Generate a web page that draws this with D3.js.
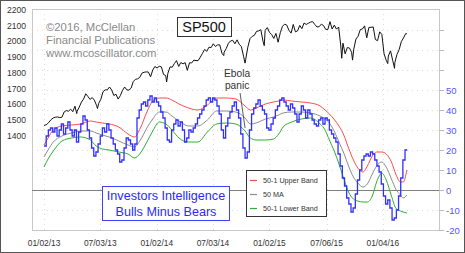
<!DOCTYPE html>
<html>
<head>
<meta charset="utf-8">
<script src="https://cdn.jsdelivr.net/npm/d3@7.9.0/dist/d3.min.js"></script>
<style>
  body { margin: 0; background: #fff; }
  svg { display: block; font-family: "Liberation Sans", Arial, sans-serif; }
</style>
</head>
<body>
<div id="chart"></div>
<script>
// weekly SP500 closes (Fridays from 01/04/13)
const spStart = '2013-01-04';
const spWeekly = [
  1466, 1472, 1486, 1503, 1513, 1518, 1519, 1515, 1518, 1551, 1560, 1556, 1569,
  1553, 1588, 1555, 1582, 1614, 1633, 1667, 1650, 1631, 1643, 1626, 1593, 1606,
  1632, 1680, 1692, 1692, 1710, 1691, 1656, 1664, 1633, 1655, 1688, 1710, 1692,
  1690, 1703, 1745, 1759, 1762, 1771, 1798, 1804, 1806, 1805, 1775, 1818, 1841,
  // 2014
  1831, 1842, 1838, 1790, 1783, 1797, 1838, 1836, 1859, 1878, 1841, 1866, 1857,
  1865, 1816, 1864, 1863, 1881, 1878, 1878, 1900, 1924, 1949, 1937, 1963, 1961,
  1985, 1968, 1978, 1978, 1925, 1931, 1955, 1988, 2003, 2007, 1985, 2010, 1982,
  1967, 1906, 1886, 1964, 2018, 2032, 2039, 2064, 2067, 2075, 2002, 2070, 2088,
  // 2015
  2058, 2044, 2019, 2051, 1995, 2055, 2096, 2110, 2104, 2071, 2053, 2108, 2061,
  2067, 2102, 2081, 2117, 2108, 2116, 2123, 2126, 2107, 2092, 2094, 2110, 2101,
  2077, 2076, 2126, 2079, 2104, 2078, 2092, 1971, 1989, 1921, 1961, 1958, 1931,
  1951, 2015, 2033, 2075, 2079, 2099, 2023, 2089, 2090, 2092, 2012, 2005, 2061,
  // 2016
  2044, 1922, 1880, 1907, 1940, 1880, 1865, 1918, 1948, 1999, 2022, 2050,
];
// mid-week extremes
const spExtra = [
  ['2013-01-02', 1462], ['2013-04-18', 1541], ['2013-06-24', 1573],
  ['2014-02-03', 1742], ['2014-08-07', 1910], ['2014-10-15', 1862],
  ['2014-12-16', 1973], ['2015-08-24', 1893], ['2015-09-28', 1881],
  ['2016-01-20', 1859], ['2016-02-11', 1829], ['2016-03-22', 2049],
];

// Investors Intelligence bulls minus bears, weekly (Wednesdays from 01/02/13)
const iiStart = '2013-01-02';
const iiEnd = '2016-03-23';
const iiWeekly = [
  22, 27, 30, 31, 29, 31, 27, 30, 33, 28, 31, 34, 30, 27, 30, 24, 29,
  33, 37, 35, 30, 26, 21, 17, 19, 23, 27, 31, 29, 33, 30, 26, 23, 20, 18,
  14, 15, 21, 26, 25, 23, 20, 23, 36, 40, 43, 44, 42, 45, 47, 44, 46,
  // 2014
  44, 42, 39, 36, 31, 25, 24, 30, 33, 35, 32, 34, 30, 24, 26, 30, 29,
  31, 33, 36, 38, 40, 42, 45, 46, 44, 46, 45, 42, 38, 30, 26, 32, 36, 39,
  42, 44, 40, 36, 28, 21, 16, 19, 30, 38, 41, 43, 45, 42, 40, 38, 31,
  // 2015
  30, 33, 36, 40, 42, 45, 46, 44, 42, 40, 43, 41, 38, 34, 38, 42, 40,
  36, 40, 38, 35, 33, 32, 35, 36, 33, 36, 35, 30, 28, 26, 24, 18, 12, 6,
  2, -4, -7, -11, -9, -2, 5, 10, 15, 17, 18, 17, 19, 18, 15, 12, 9,
  // 2016
  3, -3, -7, -5, -9, -15, -14, -10, -3, 6, 15, 20,
];

const bandDates = [
  '2013-01-02', '2013-01-15', '2013-02-01', '2013-03-01', '2013-04-01', '2013-05-01',
  '2013-06-01', '2013-06-20', '2013-07-10', '2013-08-01', '2013-09-01', '2013-10-01',
  '2013-10-22', '2013-11-10', '2013-12-01', '2013-12-20', '2014-01-10', '2014-02-01',
  '2014-02-20', '2014-03-15', '2014-04-15', '2014-05-15', '2014-06-15', '2014-07-15',
  '2014-08-15', '2014-09-15', '2014-10-15', '2014-11-01', '2014-11-20', '2014-12-20',
  '2015-01-15', '2015-02-01', '2015-02-15', '2015-03-15', '2015-04-15', '2015-05-15',
  '2015-06-15', '2015-07-01', '2015-07-15', '2015-08-01', '2015-08-15', '2015-09-01',
  '2015-09-15', '2015-10-01', '2015-10-15', '2015-11-01', '2015-11-15', '2015-12-01',
  '2015-12-15', '2016-01-01', '2016-01-15', '2016-02-01', '2016-02-15', '2016-03-01',
  '2016-03-10', '2016-03-22',
];
const upperBand = [
  22.5, 26, 30, 32, 32.5, 33, 34.5, 34, 33.5, 33, 31.5, 28,
  26.5, 31, 39, 44.5, 46, 46, 45, 43, 41, 40, 42.5, 46,
  46, 45.5, 42, 40, 41, 43, 44, 44.5, 45, 44.5, 44, 43.5,
  42, 40, 38, 35, 32, 27, 21, 15, 11, 9, 12, 17,
  19, 19, 18, 14, 8, 4, 4, 10,
];
const maBand = [
  16.5, 20, 24, 27, 28.5, 29.5, 29.5, 28.5, 27.5, 26.5, 24.5, 22.5,
  21.5, 25, 31, 35.5, 39, 39, 37, 34.5, 32, 32, 35, 39.5,
  39.5, 39, 36, 33, 33.5, 35.5, 36.5, 37.5, 38.5, 39, 39, 38.5,
  37, 35.5, 33.5, 29, 24, 18, 12, 6.5, 3.5, 1.5, 3, 8,
  12, 14, 11.5, 5.5, 0.5, -2.5, -4, -2.5,
];
const lowerBand = [
  11.5, 15.5, 19.5, 24.5, 26, 26.5, 25, 22, 20.5, 20, 19, 18,
  16, 18.5, 24, 29.5, 34, 33, 30, 26, 24, 24, 29, 33,
  33.5, 33, 29.5, 26, 25, 25, 25.5, 28, 31.5, 34, 35.5, 36,
  33, 30, 25, 19, 13, 5, -1, -4.5, -5.5, -6, -6, -3,
  4, 8.5, 5, -3, -9, -10.5, -11, -11.5,
];

const xTicks = ['2013-01-02', '2013-07-03', '2014-01-02', '2014-07-03', '2015-01-02', '2015-07-06', '2016-01-04'];
const leftTicks = [1400, 1500, 1600, 1700, 1800, 1900, 2000, 2100, 2200];
const rightTicks = [-20, -10, 0, 10, 20, 30, 40, 50];
const rightTickMarks = [-20, -10, 0, 10, 20, 30, 40, 50, 60, 70, 80];
const legendItems = [
  { label: '50-1 Upper Band', color: '#ff4a4a' },
  { label: '50 MA', color: '#8c8c8c' },
  { label: '50-1 Lower Band', color: '#2fae2f' },
];

const parse = d3.utcParse('%Y-%m-%d');
const width = 465;
const height = 253;
const plot = { left: 32, right: 439, top: 9, bottom: 230 };

const xScale = d3.scaleUtc()
  .domain([parse('2012-11-24'), parse('2016-07-04')])
  .range([plot.left, plot.right]);
const ySp = d3.scaleLinear().domain([800, 2200]).range([plot.bottom, 10]);
const yII = d3.scaleLinear().domain([-20, 90]).range([plot.bottom, 10]);

// build series
const spData = spWeekly.map((v, i) => ({ date: d3.utcDay.offset(parse(spStart), 7 * i), value: v }))
  .concat(spExtra.map(([d, v]) => ({ date: parse(d), value: v })))
  .sort((a, b) => a.date - b.date);
const iiData = iiWeekly.map((v, i) => ({ date: d3.utcDay.offset(parse(iiStart), 7 * i), value: v }));
iiData.push({ date: parse(iiEnd), value: iiWeekly[iiWeekly.length - 1] });
const bands = [
  { values: upperBand, color: legendItems[0].color },
  { values: maBand, color: legendItems[1].color },
  { values: lowerBand, color: legendItems[2].color },
];

const svg = d3.select('#chart').append('svg')
  .attr('width', width)
  .attr('height', height);

svg.append('rect')
  .attr('x', 0.5).attr('y', 0.5)
  .attr('width', width - 1).attr('height', height - 1)
  .attr('fill', '#fff').attr('stroke', '#555');

// dotted grid
const grid = svg.append('g').attr('stroke', '#dcdcdc').attr('stroke-dasharray', '1,4');
grid.selectAll('.gy').data(rightTickMarks).join('line')
  .attr('x1', plot.left).attr('x2', plot.right)
  .attr('y1', (d) => yII(d) + 0.5).attr('y2', (d) => yII(d) + 0.5);
grid.selectAll('.gx').data(xTicks).join('line')
  .attr('x1', (d) => Math.round(xScale(parse(d))) + 0.5)
  .attr('x2', (d) => Math.round(xScale(parse(d))) + 0.5)
  .attr('y1', plot.top).attr('y2', plot.bottom);

// plot frame
svg.append('rect')
  .attr('x', plot.left + 0.5).attr('y', plot.top + 0.5)
  .attr('width', plot.right - plot.left).attr('height', plot.bottom - plot.top)
  .attr('fill', 'none').attr('stroke', '#c8c8c8');

// zero line
svg.append('line')
  .attr('x1', plot.left).attr('x2', plot.right)
  .attr('y1', yII(0) + 0.5).attr('y2', yII(0) + 0.5)
  .attr('stroke', '#808080');

// left axis labels
svg.append('g').selectAll('text').data(leftTicks).join('text')
  .attr('x', 26).attr('y', (d) => ySp(d) + 3)
  .attr('text-anchor', 'end')
  .attr('font-size', 8.6).attr('fill', '#333')
  .text((d) => d);

// right axis
svg.append('g').selectAll('line').data(rightTickMarks).join('line')
  .attr('x1', plot.right).attr('x2', plot.right + 5)
  .attr('y1', (d) => yII(d) + 0.5).attr('y2', (d) => yII(d) + 0.5)
  .attr('stroke', '#bbb');
svg.append('g').selectAll('text').data(rightTicks).join('text')
  .attr('x', 446).attr('y', (d) => yII(d) + 3.5)
  .attr('font-size', 9.5).attr('fill', '#5656ff')
  .text((d) => d);

// x labels
svg.append('g').selectAll('text').data(xTicks).join('text')
  .attr('x', (d) => xScale(parse(d)))
  .attr('y', 246)
  .attr('text-anchor', 'middle')
  .attr('font-size', 8.4).attr('fill', '#333')
  .text((d) => d3.utcFormat('%m/%d/%y')(parse(d)));

// bands
const bandLine = d3.line()
  .x((d, i) => xScale(parse(bandDates[i])))
  .y((d) => yII(d))
  .curve(d3.curveMonotoneX);
svg.append('g').selectAll('path').data(bands).join('path')
  .attr('d', (d) => bandLine(d.values))
  .attr('fill', 'none')
  .attr('stroke', (d) => d.color)
  .attr('stroke-width', 1);

// II line
svg.append('path')
  .datum(iiData)
  .attr('d', d3.line().x((d) => xScale(d.date)).y((d) => yII(d.value)).curve(d3.curveStepAfter))
  .attr('fill', 'none')
  .attr('stroke', '#3030ff')
  .attr('stroke-width', 1.3);

// SP500 line
svg.append('path')
  .datum(spData)
  .attr('d', d3.line().x((d) => xScale(d.date)).y((d) => ySp(d.value)))
  .attr('fill', 'none')
  .attr('stroke', '#111')
  .attr('stroke-width', 1);

// copyright
svg.append('g').selectAll('text')
  .data(['\u00a92016, McClellan', 'Financial Publications', 'www.mcoscillator.com'])
  .join('text')
  .attr('x', 46).attr('y', (d, i) => 31 + i * 13)
  .attr('font-size', 11.3).attr('fill', '#8a8a8a')
  .text((d) => d);

// SP500 title box
svg.append('rect')
  .attr('x', 177.5).attr('y', 17.5).attr('width', 54).attr('height', 19)
  .attr('fill', '#fff').attr('stroke', '#333');
svg.append('text')
  .attr('x', 204).attr('y', 32)
  .attr('text-anchor', 'middle')
  .attr('font-size', 14.5).attr('fill', '#111')
  .text('SP500');

// Ebola annotation
const ebolaDate = parse('2014-10-15');
svg.append('line')
  .attr('x1', xScale(ebolaDate) - 5).attr('y1', 93)
  .attr('x2', xScale(ebolaDate)).attr('y2', yII(31))
  .attr('stroke', '#333').attr('stroke-width', 0.8);
svg.append('g').selectAll('text').data(['Ebola', 'panic']).join('text')
  .attr('x', xScale(ebolaDate) - 8).attr('y', (d, i) => 77 + i * 12)
  .attr('text-anchor', 'middle')
  .attr('font-size', 10.2).attr('fill', '#333')
  .text((d) => d);

// Investors Intelligence box
svg.append('rect')
  .attr('x', 102.5).attr('y', 186.5).attr('width', 127).attr('height', 34)
  .attr('fill', '#fff').attr('stroke', '#4040ff');
svg.append('g').selectAll('text').data(['Investors Intelligence', 'Bulls Minus Bears']).join('text')
  .attr('x', 166).attr('y', (d, i) => 200 + i * 16)
  .attr('text-anchor', 'middle')
  .attr('font-size', 12.6).attr('fill', '#2a2aff')
  .text((d) => d);

// legend
const legend = svg.append('g');
legend.append('rect')
  .attr('x', 246.5).attr('y', 170.5).attr('width', 80).attr('height', 46)
  .attr('fill', '#fff').attr('stroke', '#333');
legend.selectAll('line').data(legendItems).join('line')
  .attr('x1', 250).attr('x2', 257)
  .attr('y1', (d, i) => 180.5 + i * 14).attr('y2', (d, i) => 180.5 + i * 14)
  .attr('stroke', (d) => d.color).attr('stroke-width', 1.2);
legend.selectAll('text').data(legendItems).join('text')
  .attr('x', 263).attr('y', (d, i) => 183 + i * 14)
  .attr('font-size', 7.2).attr('fill', '#333')
  .text((d) => d.label);
</script>
</body>
</html>
